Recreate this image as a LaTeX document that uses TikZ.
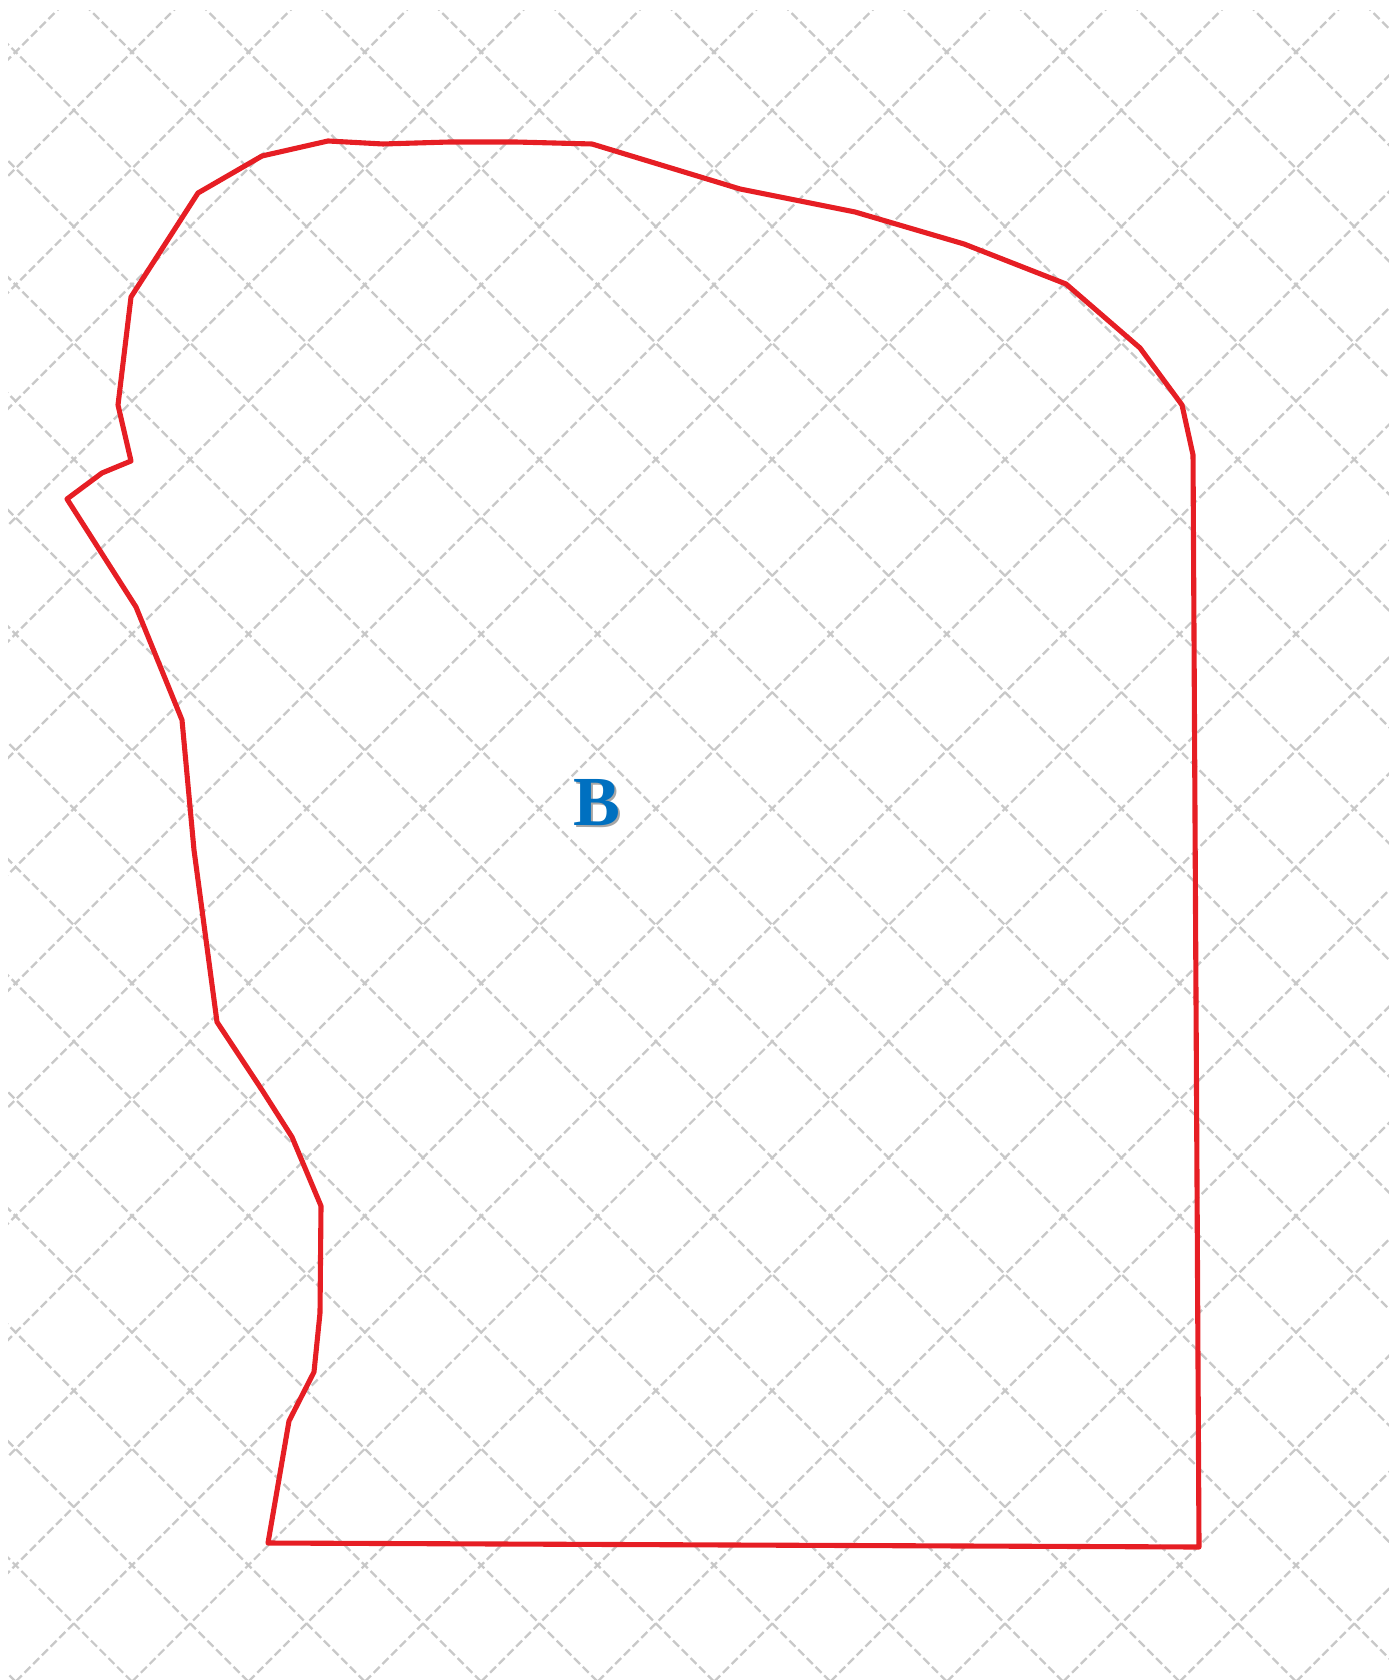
\documentclass[tikz,border=0pt]{standalone}
\usepackage{fontspec}
\setmainfont{Liberation Serif}
\definecolor{gridgray}{RGB}{200,200,200}
\definecolor{edgered}{RGB}{230,30,36}
\definecolor{letterblue}{RGB}{0,112,192}

\begin{document}
\begin{tikzpicture}[x=0.01cm, y=-0.01cm,
    gridline/.style={gridgray, line width=0.65pt, dash pattern=on 2.4pt off 1.1pt},
    border/.style={edgered, line width=1.45pt, line join=round},
    letter/.style={font=\fontsize{20}{24}\selectfont\bfseries, inner sep=0pt}]
  \useasboundingbox (0,0) rectangle (1389,1680);

  \begin{scope}
    \clip (8,11) rectangle (1389,1680);
    \foreach \k in {-15,...,11}
      \draw[gridline] ({80+116.4*\k-100},-100) -- ({80+116.4*\k+1800},1800);
    \foreach \k in {-1,...,24}
      \draw[gridline] ({184+116.4*\k+100},-100) -- ({184+116.4*\k-1800},1800);
  \end{scope}

  \draw[border] (268,1543) -- (1199,1547) -- (1193,455) -- (1182,405)
    -- (1140,348) -- (1066,284) -- (964,244) -- (855,212) -- (740,189)
    -- (592,144) -- (515,142) -- (450,142) -- (383,144) -- (328,141)
    -- (262,156) -- (198,193) -- (131,297) -- (118,405) -- (131,461)
    -- (102,473) -- (67,499) -- (136,607) -- (182,720) -- (194,850)
    -- (217,1022) -- (262,1090) -- (292,1137) -- (321,1206) -- (320,1313)
    -- (314,1372) -- (289,1421) -- cycle;

  \node[letter, black!35] (shadowB) at (599,805) {B};
  \node[letter, letterblue] (labelB) at (597,803) {B};
\end{tikzpicture}
\end{document}
